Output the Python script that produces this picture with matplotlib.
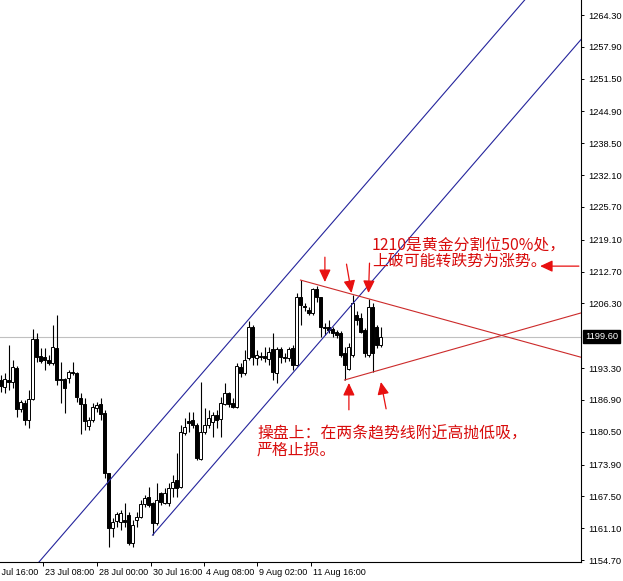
import numpy as np
import matplotlib.pyplot as plt

# OHLC of the gold chart, one entry per bar
opens = [1190.9, 1189.5, 1190.9, 1190.5, 1193.3, 1185.1, 1186.3, 1182.9, 1187.1, 1199.2,
         1195.7, 1195.5, 1194.9, 1194.3, 1197.3, 1191.1, 1191.1, 1191.3, 1192.5, 1192.3,
         1187.3, 1186.1, 1181.7, 1182.9, 1185.3, 1186.1, 1184.3, 1172.2, 1161.1, 1162.6,
         1162.4, 1162.8, 1163.8, 1158.1, 1162.8, 1163.4, 1166.0, 1167.4, 1166.2, 1162.2,
         1168.2, 1166.2, 1166.2, 1169.2, 1170.8, 1169.4, 1180.3, 1182.7, 1182.9, 1181.9,
         1175.0, 1180.5, 1181.9, 1182.5, 1183.9, 1183.1, 1186.1, 1188.3, 1186.3, 1185.5,
         1193.5, 1192.3, 1195.3, 1201.6, 1195.3, 1195.7, 1195.7, 1195.1, 1197.1, 1192.3,
         1197.1, 1195.5, 1195.3, 1197.3, 1193.9, 1207.6, 1205.8, 1205.0, 1204.4, 1209.2,
         1207.6, 1201.6, 1201.6, 1201.2, 1200.6, 1200.4, 1196.3, 1193.1, 1195.9, 1204.0,
         1203.4, 1201.0, 1195.9, 1205.6, 1201.6, 1197.9]
highs = [1191.9, 1192.3, 1197.9, 1194.9, 1193.7, 1186.9, 1186.9, 1188.9, 1201.2, 1200.4,
         1197.3, 1197.3, 1195.9, 1202.0, 1204.0, 1194.5, 1191.3, 1192.9, 1194.5, 1192.5,
         1188.3, 1187.3, 1183.5, 1186.3, 1186.5, 1187.3, 1184.9, 1172.2, 1163.2, 1164.4,
         1164.8, 1166.2, 1164.4, 1162.8, 1164.4, 1166.8, 1167.8, 1169.4, 1166.4, 1170.2,
         1168.4, 1169.2, 1170.2, 1171.8, 1176.2, 1181.9, 1183.3, 1184.5, 1184.5, 1182.3,
         1190.5, 1185.3, 1184.9, 1184.5, 1184.9, 1187.5, 1190.3, 1188.5, 1187.3, 1194.3,
         1194.3, 1196.9, 1202.8, 1202.0, 1196.9, 1196.5, 1197.5, 1197.5, 1200.4, 1197.5,
         1197.5, 1196.3, 1197.5, 1197.9, 1208.4, 1211.0, 1206.4, 1205.6, 1209.4, 1209.8,
         1207.6, 1202.4, 1203.0, 1201.6, 1201.0, 1200.8, 1197.5, 1198.3, 1208.0, 1204.8,
         1204.4, 1201.4, 1207.2, 1206.4, 1202.0, 1201.6]
lows = [1188.5, 1188.3, 1188.9, 1189.3, 1183.5, 1184.5, 1181.9, 1181.3, 1186.9, 1194.5,
        1194.3, 1192.9, 1193.9, 1193.9, 1189.9, 1186.3, 1184.3, 1190.3, 1191.9, 1186.5,
        1180.0, 1180.9, 1180.9, 1182.5, 1184.5, 1182.9, 1171.2, 1157.3, 1159.3, 1161.3,
        1160.7, 1161.3, 1157.7, 1157.3, 1161.3, 1163.2, 1165.4, 1165.4, 1159.7, 1161.7,
        1165.8, 1166.0, 1165.6, 1167.4, 1167.4, 1169.2, 1179.8, 1180.5, 1181.3, 1174.8,
        1174.8, 1180.0, 1181.3, 1179.4, 1181.3, 1179.4, 1185.9, 1185.5, 1185.3, 1185.3,
        1191.5, 1191.9, 1194.9, 1193.9, 1193.9, 1194.9, 1194.5, 1193.9, 1190.9, 1190.3,
        1194.3, 1194.5, 1194.7, 1192.9, 1193.7, 1202.0, 1204.8, 1204.0, 1204.0, 1206.6,
        1199.6, 1199.9, 1200.4, 1199.6, 1199.4, 1195.5, 1190.9, 1192.9, 1195.5, 1202.0,
        1200.4, 1195.5, 1195.5, 1192.5, 1197.3, 1197.5]
closes = [1189.7, 1191.1, 1190.5, 1193.5, 1185.1, 1186.5, 1182.9, 1187.1, 1199.2, 1195.5,
          1194.7, 1194.9, 1194.3, 1197.5, 1190.9, 1190.9, 1189.3, 1192.5, 1192.3, 1187.5,
          1186.1, 1182.7, 1182.9, 1185.5, 1185.9, 1184.1, 1172.2, 1161.1, 1162.4, 1164.0,
          1164.2, 1162.4, 1158.1, 1161.7, 1163.4, 1166.0, 1167.2, 1165.8, 1162.2, 1166.8,
          1166.4, 1168.2, 1169.2, 1170.4, 1169.2, 1180.5, 1181.5, 1182.3, 1181.9, 1175.2,
          1180.5, 1181.9, 1183.3, 1183.9, 1182.9, 1186.3, 1188.3, 1186.1, 1185.5, 1193.7,
          1192.3, 1194.9, 1201.6, 1195.5, 1195.9, 1195.5, 1195.3, 1196.5, 1192.5, 1197.1,
          1195.5, 1195.3, 1197.1, 1193.9, 1207.6, 1206.0, 1205.6, 1204.4, 1209.2, 1207.6,
          1201.6, 1201.4, 1201.0, 1200.4, 1199.9, 1195.9, 1193.9, 1197.5, 1206.4, 1203.0,
          1200.6, 1196.3, 1205.6, 1196.3, 1197.9, 1199.6]

last_price = 1199.60

price_ticks = [1264.30, 1257.90, 1251.50, 1244.90, 1238.50, 1232.10, 1225.70, 1219.10,
               1212.70, 1206.30, 1193.30, 1186.90, 1180.50, 1173.90, 1167.50, 1161.10, 1154.70]
time_pos = [-3.3, 10.7, 24.0, 37.6, 50.9, 64.2, 77.6]
time_labels = ['21 Jul 16:00', '23 Jul 08:00', '28 Jul 00:00', '30 Jul 16:00',
               '4 Aug 08:00', '9 Aug 02:00', '11 Aug 16:00']

# hand drawn objects: (bar, price) end points
channel_upper = [(5, 1150.0), (135, 1271.0)]
channel_lower = [(38, 1159.7), (150, 1263.9)]
tri_upper = [(75, 1211.0), (150, 1194.4)]
tri_lower = [(86, 1190.9), (150, 1205.5)]

arrow_tails = [(81.1, 1215.6), (86.5, 1214.2), (92.25, 1214.4), (87.1, 1184.9),
               (96.4, 1185.1), (144.6, 1213.8)]
arrow_tips = [(81.1, 1210.6), (87.75, 1208.4), (92.0, 1208.4), (87.1, 1190.3),
              (95.1, 1190.5), (134.9, 1213.8)]

notes = ['1210是黄金分割位50%处，', '上破可能转跌势为涨势。',
         '操盘上：在两条趋势线附近高抛低吸，', '严格止损。']
note_pos = [(92.9, 1218.1), (92.9, 1214.8), (64.1, 1180.0), (64.1, 1176.8)]

plt.rcParams['font.family'] = ['Liberation Sans', 'DejaVu Sans']

fig = plt.figure(figsize=(6.23, 5.81), dpi=100)
ax = fig.add_axes([0, 19 / 581, 581 / 623, 562 / 581])

o = np.array(opens)
h = np.array(highs)
l = np.array(lows)
c = np.array(closes)
idx = np.arange(len(o))
up = c >= o

ax.axhline(last_price, color='#c0c0c0', lw=0.8, zorder=1)
ax.vlines(idx, l, h, color='black', lw=0.8, zorder=2)
ax.bar(idx[up], (c - o)[up], bottom=o[up], width=0.6, facecolor='white',
       edgecolor='black', lw=0.7, zorder=3)
ax.bar(idx[~up], (c - o)[~up], bottom=o[~up], width=0.6, facecolor='black',
       edgecolor='black', lw=0.7, zorder=3)

for line in (channel_upper, channel_lower):
    xs, ys = zip(*line)
    ax.plot(xs, ys, color='#24249c', lw=0.8, zorder=4)
for line in (tri_upper, tri_lower):
    xs, ys = zip(*line)
    ax.plot(xs, ys, color='#cc2a2a', lw=0.8, zorder=4)

for tail, tip in zip(arrow_tails, arrow_tips):
    ax.annotate('', xy=tip, xytext=tail,
                arrowprops=dict(arrowstyle='-|>,head_length=0.75,head_width=0.35',
                                color='#e81010', lw=0.9, shrinkA=0, shrinkB=0),
                zorder=5)

for txt, (x, y) in zip(notes, note_pos):
    ax.text(x, y, txt, color='#d80c0c', fontsize=11.4, ha='left', va='center',
            family=['Noto Sans CJK SC', 'DejaVu Sans'], zorder=6)

ax.set_xlim(-0.125, 145.125)
ax.set_ylim(1154.30, 1267.32)

for side in ('top', 'left'):
    ax.spines[side].set_visible(False)
for side in ('right', 'bottom'):
    ax.spines[side].set_linewidth(0.8)

ax.yaxis.tick_right()
ax.set_yticks(price_ticks)
ax.set_yticklabels(['%.2f' % v for v in price_ticks])
ax.tick_params(axis='y', direction='out', length=2.5, width=0.7, pad=2.5, labelsize=6.7)

ax.set_xticks([p for p in time_pos if p > 0])
ax.set_xticklabels([])
ax.tick_params(axis='x', direction='out', length=3, width=0.7)
for p, lab in zip(time_pos, time_labels):
    ax.annotate(lab, xy=(p, 0), xycoords=('data', 'axes fraction'),
                xytext=(1.5, -4), textcoords='offset points',
                ha='left', va='top', fontsize=6.5, annotation_clip=False)

ax.annotate('%.2f' % last_price, xy=(1, last_price), xycoords=('axes fraction', 'data'),
            xytext=(3, 0), textcoords='offset points', ha='left', va='center',
            color='white', fontsize=6.7,
            bbox=dict(boxstyle='square,pad=0.2', fc='black', ec='black'))

fig.savefig('out.png', dpi=100)
